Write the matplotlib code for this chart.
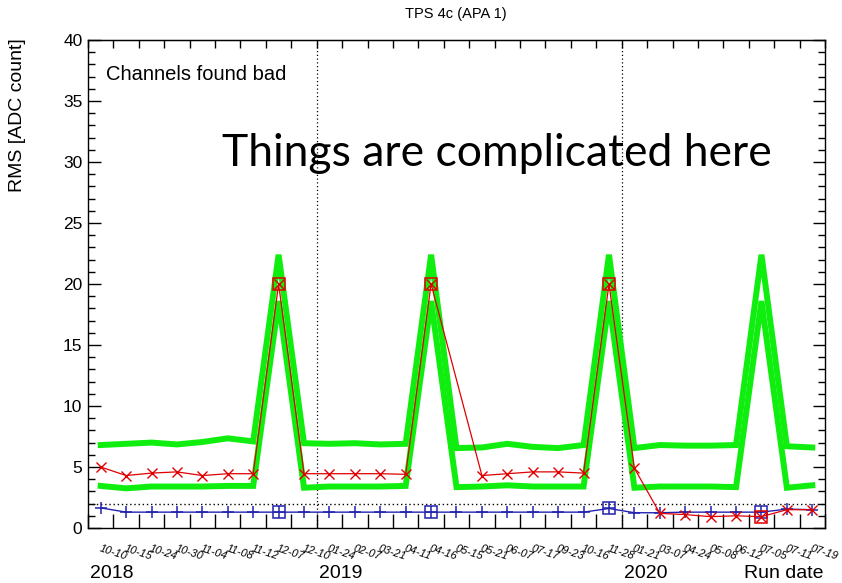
import numpy as np
import matplotlib
matplotlib.use("Agg")
import matplotlib.pyplot as plt
import matplotlib.transforms as mtransforms

# ROOT風のフォント（Helvetica相当）
plt.rcParams["font.family"] = ["Liberation Sans", "DejaVu Sans"]

# --------------------------------------------------
# データ
# --------------------------------------------------
run_dates = ["10-10", "10-15", "10-24", "10-30", "11-04", "11-08", "11-12",
             "12-07", "12-10", "01-24", "02-07", "03-21", "04-11", "04-16",
             "05-15", "05-21", "06-07", "07-17", "09-23", "10-16", "11-28",
             "01-21", "03-07", "04-24", "05-08", "06-12", "07-05", "07-11",
             "07-19"]
year_labels = ["2018", "2019", "2020"]
year_first_run = [0, 9, 21]

# 許容範囲（緑の上限・下限）
upper_limit = [6.8, 6.9, 7.0, 6.85, 7.05, 7.35, 7.1, 22.4, 6.95, 6.9,
               6.95, 6.85, 6.9, 22.4, 6.55, 6.6, 6.9, 6.65, 6.55, 6.8,
               22.4, 6.55, 6.8, 6.75, 6.75, 6.8, 22.4, 6.7, 6.6]
lower_limit = [3.45, 3.25, 3.4, 3.4, 3.4, 3.45, 3.45, 18.6, 3.3, 3.4,
               3.4, 3.4, 3.45, 18.6, 3.35, 3.4, 3.5, 3.4, 3.4, 3.4,
               18.6, 3.3, 3.4, 3.4, 3.4, 3.35, 18.6, 3.3, 3.5]

# 赤：RMS（run 14 は欠測）
red_runs = [0, 1, 2, 3, 4, 5, 6, 7, 8, 9, 10, 11, 12, 13,
            15, 16, 17, 18, 19, 20, 21, 22, 23, 24, 25, 26, 27, 28]
red_rms = [5.0, 4.3, 4.5, 4.6, 4.3, 4.45, 4.45, 20.0, 4.45, 4.45,
           4.45, 4.45, 4.4, 20.0, 4.3, 4.45, 4.6, 4.6, 4.5, 20.0,
           4.9, 1.2, 1.1, 0.93, 1.0, 0.93, 1.5, 1.5]

# 青：低ノイズ側
blue_rms = [1.65, 1.3, 1.3, 1.3, 1.3, 1.3, 1.3, 1.3, 1.3, 1.3,
            1.3, 1.3, 1.3, 1.3, 1.3, 1.3, 1.3, 1.3, 1.3, 1.3,
            1.6, 1.25, 1.25, 1.3, 1.3, 1.3, 1.3, 1.55, 1.5]

# 四角マーカーで強調するラン
special_runs = [7, 13, 20, 26]
threshold = 2.0

# --------------------------------------------------
# 描画
# --------------------------------------------------
fig = plt.figure(figsize=(8.42, 5.83), dpi=100)
ax = fig.add_axes([88 / 842, 55 / 583, 737 / 842, 488 / 583])

runs = np.arange(len(run_dates))
green = "#10ee10"
red = "#e00000"
blue = "#2222b0"

ax.plot(runs, upper_limit, color=green, lw=4.3, zorder=2, solid_joinstyle="miter")
ax.plot(runs, lower_limit, color=green, lw=4.3, zorder=2, solid_joinstyle="miter")

ax.axhline(threshold, color="black", ls=(0, (1, 2)), lw=1.0, zorder=1.5)
for idx in year_first_run[1:]:
    ax.axvline(idx - 0.5, color="black", ls=(0, (1, 2)), lw=0.9, zorder=1.5)

ax.plot(runs, blue_rms, color=blue, lw=1.0, marker="+", ms=8, mew=1.1, zorder=3)
ax.plot(special_runs, [blue_rms[i] for i in special_runs], ls="none", marker="s",
        ms=8.5, mfc="none", mec=blue, mew=1.1, zorder=3)

ax.plot(red_runs, red_rms, color=red, lw=0.9, marker="x", ms=7, mew=1.0, zorder=4)
red_special = [red_rms[red_runs.index(i)] for i in special_runs]
ax.plot(special_runs, red_special, ls="none", marker="s", ms=8.5, mfc="none",
        mec=red, mew=1.1, zorder=4)

ax.set_xlim(-0.5, len(run_dates) - 0.5)
ax.set_ylim(0, 40)

# 目盛り（内向き、ROOT風）
ax.set_xticks(np.arange(-0.5, len(run_dates), 1.0))
ax.set_xticklabels([])
ax.set_yticks(np.arange(0, 41, 5))
ax.set_yticks(np.arange(0, 41, 1), minor=True)
ax.tick_params(axis="y", which="major", direction="in", length=9, width=1,
               right=True, labelsize=12.5, pad=4)
ax.tick_params(axis="y", which="minor", direction="in", length=5, width=1, right=True)
ax.tick_params(axis="x", which="major", direction="in", length=10, width=1)
top = ax.secondary_xaxis("top")
top.set_xticks(np.arange(-0.5, len(run_dates), 1.0))
top.set_xticklabels([])
top.tick_params(direction="in", length=6, width=1)
for s in ax.spines.values():
    s.set_linewidth(1.0)

# 日付ラベル（傾けて重なり気味に）
lab_tr = mtransforms.offset_copy(ax.get_xaxis_transform(), fig=fig, x=0, y=-15,
                                 units="dots")
for i, lab in enumerate(run_dates):
    ax.text(i, 0, lab, transform=lab_tr, ha="left", va="top", fontsize=8,
            style="italic", rotation=-18, rotation_mode="anchor")

year_tr = mtransforms.offset_copy(ax.get_xaxis_transform(), fig=fig, x=2, y=-37,
                                  units="dots")
for idx, yl in zip(year_first_run, year_labels):
    ax.text(idx - 0.5, 0, yl, transform=year_tr, ha="left", va="top", fontsize=14)
ax.text(1.0, 0, "Run date", transform=mtransforms.offset_copy(
    ax.transAxes, fig=fig, x=-2, y=-37, units="dots"),
    ha="right", va="top", fontsize=14)

fig.text(456 / 842, 1 - 14 / 583, "TPS 4c (APA 1)", ha="center", va="center",
         fontsize=10.5)
fig.text(18 / 842, 1 - 38 / 583, "RMS [ADC count]", rotation=90, ha="center",
         va="top", fontsize=14)
ax.text(0.024, 0.93, "Channels found bad", transform=ax.transAxes, ha="left",
        va="center", fontsize=14.5)
fig.text(222 / 842, 1 - 154 / 583, "Things are complicated here", ha="left",
         va="center", fontsize=32, family=["Lato", "DejaVu Sans"])

fig.savefig("out.png", dpi=100)
plt.close(fig)
